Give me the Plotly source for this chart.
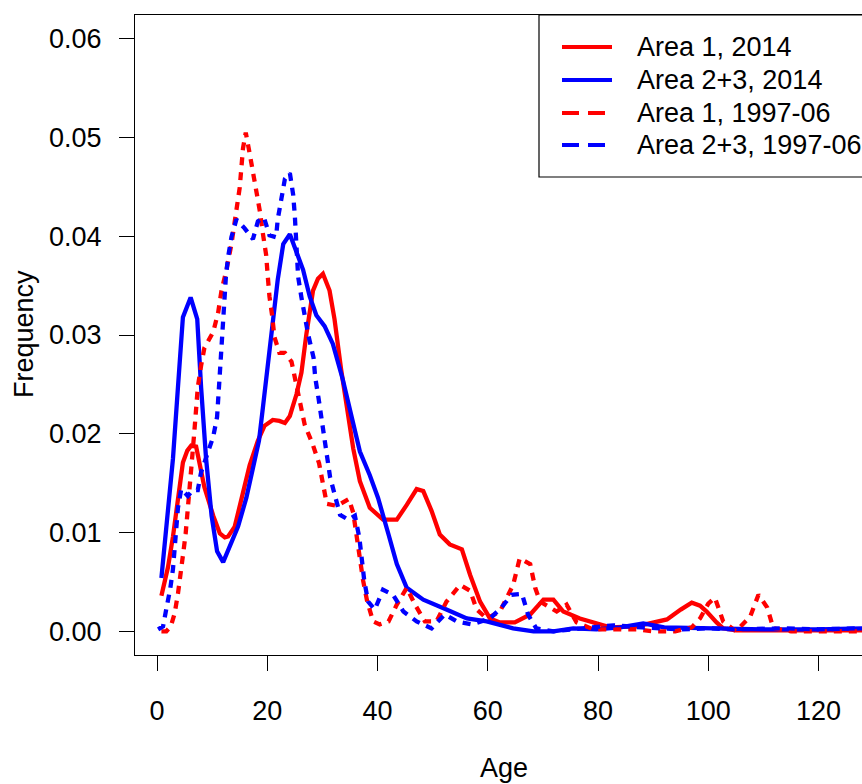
import plotly.graph_objects as go

# ---- data ----
age_a1_2014 = [0.8, 2.0, 2.9, 3.8, 4.7, 5.5, 6.2, 7.1, 7.8, 8.6, 10.2, 11.4, 12.3, 12.9, 14.1, 15.6, 16.8, 18.3, 19.5,
               21.0, 22.2, 23.2, 24.1, 25.3, 26.2, 27.1, 28.3, 29.2, 30.1, 31.3, 32.2, 33.4, 34.9, 35.6, 36.8, 38.6,
               41.0, 43.5, 45.3, 47.1, 48.3, 49.8, 51.3, 53.1, 55.3, 56.8, 58.6, 60.4, 62.2, 64.9, 67.7, 70.1, 71.9,
               73.7, 76.7, 79.8, 82.2, 87.0, 92.5, 95.0, 97.0, 98.5, 99.7, 101.5, 102.7, 105.0, 110.0, 115.0, 120.0, 128.0]
frq_a1_2014 = [0.0036, 0.0065, 0.0096, 0.0135, 0.0171, 0.0183, 0.0188, 0.0187, 0.0168, 0.0146, 0.0117, 0.0099, 0.0095,
               0.0096, 0.0106, 0.0139, 0.0168, 0.0193, 0.0208, 0.0214, 0.0213, 0.0211, 0.0218, 0.0240, 0.0262, 0.0301,
               0.0345, 0.0357, 0.0362, 0.0345, 0.0316, 0.0265, 0.0207, 0.0185, 0.0152, 0.0125, 0.0113, 0.0113, 0.0128,
               0.0144, 0.0142, 0.0122, 0.0098, 0.0088, 0.0083, 0.0057, 0.0030, 0.0013, 0.0009, 0.0009, 0.0017, 0.0032,
               0.0032, 0.0020, 0.0013, 0.0008, 0.0004, 0.0005, 0.0012, 0.0022, 0.0029, 0.0026, 0.0020, 0.0009, 0.0003,
               0.0001, 0.0001, 0.0001, 0.0001, 0.0001]

age_a23_2014 = [0.8, 1.7, 2.9, 3.8, 4.7, 6.1, 7.3, 8.0, 8.9, 9.9, 10.9, 12.0, 13.2, 14.7, 16.2, 17.4, 18.5, 19.2, 19.8,
                20.4, 21.0, 21.9, 22.9, 24.1, 25.3, 26.5, 27.7, 28.9, 30.4, 31.9, 33.7, 35.3, 36.8, 38.6, 40.1, 42.0,
                43.5, 45.3, 48.3, 52.5, 56.2, 59.8, 64.6, 68.3, 71.9, 75.5, 79.7, 84.0, 88.2, 92.0, 100.0, 110.0,
                120.0, 128.0]
frq_a23_2014 = [0.0054, 0.0103, 0.0175, 0.0247, 0.0318, 0.0338, 0.0316, 0.0247, 0.0175, 0.0117, 0.0081, 0.0070,
                0.0085, 0.0106, 0.0135, 0.0164, 0.0193, 0.0226, 0.0255, 0.0291, 0.0320, 0.0356, 0.0392, 0.0402,
                0.0384, 0.0366, 0.0339, 0.0320, 0.0309, 0.0291, 0.0255, 0.0218, 0.0182, 0.0158, 0.0135, 0.0098,
                0.0068, 0.0044, 0.0032, 0.0022, 0.0013, 0.0010, 0.0003, 0.0000, 0.0000, 0.0003, 0.0002, 0.0004,
                0.0008, 0.0004, 0.0003, 0.0002, 0.0002, 0.0003]

age_a1_hist = [0.8, 1.7, 2.5, 3.2, 3.8, 4.4, 4.8, 5.2, 5.6, 5.9, 6.2, 6.8, 7.4, 8.0, 8.6, 10.2, 11.1, 11.7, 12.6, 13.5,
               14.4, 15.0, 15.6, 16.1, 16.8, 17.5, 18.1, 18.7, 19.2, 19.8, 20.1, 20.4, 20.9, 21.3, 22.2, 23.2, 24.4,
               25.3, 25.9, 26.8, 28.2, 29.4, 30.1, 30.8, 32.6, 34.8, 35.6, 36.2, 36.8, 37.4, 38.1, 39.2, 40.4, 42.0,
               43.5, 45.3, 46.8, 48.6, 50.7, 52.5, 55.0, 56.8, 58.0, 59.8, 62.2, 64.6, 65.8, 67.7, 68.6, 69.5, 72.5,
               74.3, 76.1, 79.1, 82.0, 87.0, 90.0, 94.0, 97.0, 98.5, 100.0, 101.2, 102.7, 105.0, 107.6, 109.1, 110.7,
               111.8, 115.0, 120.0, 128.0]
frq_a1_hist = [0.0000, 0.0000, 0.0005, 0.0018, 0.0038, 0.0060, 0.0081, 0.0099, 0.0121, 0.0143, 0.0164, 0.0204,
               0.0247, 0.0269, 0.0287, 0.0303, 0.0323, 0.0345, 0.0366, 0.0392, 0.0428, 0.0449, 0.0489, 0.0505,
               0.0484, 0.0464, 0.0442, 0.0424, 0.0403, 0.0381, 0.0359, 0.0339, 0.0319, 0.0298, 0.0282, 0.0282,
               0.0273, 0.0251, 0.0233, 0.0209, 0.0190, 0.0170, 0.0150, 0.0129, 0.0127, 0.0134, 0.0120, 0.0095,
               0.0072, 0.0051, 0.0031, 0.0010, 0.0007, 0.0010, 0.0027, 0.0044, 0.0027, 0.0010, 0.0010, 0.0030,
               0.0047, 0.0041, 0.0022, 0.0013, 0.0020, 0.0047, 0.0074, 0.0068, 0.0044, 0.0030, 0.0020, 0.0027,
               0.0009, 0.0002, 0.0002, 0.0002, 0.0000, 0.0000, 0.0004, 0.0013, 0.0028, 0.0034, 0.0010, 0.0000,
               0.0015, 0.0037, 0.0024, 0.0003, 0.0000, 0.0000, 0.0000]

age_a23_hist = [0.2, 1.1, 1.7, 2.4, 2.9, 3.2, 3.5, 3.8, 4.4, 5.6, 6.5, 7.4, 8.0, 8.9, 10.2, 10.9, 11.1, 11.4, 11.7,
                11.9, 12.0, 12.3, 12.5, 12.9, 13.5, 14.4, 15.9, 17.4, 18.3, 19.4, 20.4, 21.6, 21.9, 22.6, 23.2, 24.1,
                24.7, 25.0, 25.2, 25.6, 26.2, 26.8, 27.4, 28.4, 28.7, 29.3, 30.2, 30.8, 31.4, 32.3, 33.2, 34.7, 35.9,
                36.7, 37.1, 37.6, 38.3, 39.5, 41.0, 42.8, 44.7, 47.1, 49.8, 52.2, 54.4, 57.1, 60.4, 62.5, 64.3, 66.2,
                67.3, 68.8, 71.9, 75.5, 79.1, 82.8, 88.0, 95.0, 100.0, 105.0, 114.0, 120.0, 127.6]
frq_a23_hist = [0.0002, 0.0005, 0.0023, 0.0043, 0.0063, 0.0085, 0.0106, 0.0125, 0.0144, 0.0137, 0.0143, 0.0143,
                0.0161, 0.0175, 0.0197, 0.0217, 0.0236, 0.0256, 0.0276, 0.0298, 0.0318, 0.0339, 0.0359, 0.0379,
                0.0399, 0.0417, 0.0408, 0.0397, 0.0415, 0.0419, 0.0401, 0.0399, 0.0417, 0.0439, 0.0458, 0.0464,
                0.0442, 0.0421, 0.0399, 0.0359, 0.0338, 0.0317, 0.0301, 0.0277, 0.0257, 0.0236, 0.0199, 0.0176,
                0.0156, 0.0137, 0.0118, 0.0113, 0.0117, 0.0095, 0.0074, 0.0051, 0.0030, 0.0022, 0.0042, 0.0037,
                0.0020, 0.0010, 0.0003, 0.0017, 0.0010, 0.0007, 0.0013, 0.0024, 0.0037, 0.0038, 0.0017, 0.0003,
                0.0000, 0.0002, 0.0003, 0.0006, 0.0004, 0.0002, 0.0003, 0.0002, 0.0003, 0.0002, 0.0003]

series_names = ["Area 1, 2014", "Area 2+3, 2014", "Area 1, 1997-06", "Area 2+3, 1997-06"]
series_x = [age_a1_2014, age_a23_2014, age_a1_hist, age_a23_hist]
series_y = [frq_a1_2014, frq_a23_2014, frq_a1_hist, frq_a23_hist]

x_ticks = [0, 20, 40, 60, 80, 100, 120]
y_ticks = [0.00, 0.01, 0.02, 0.03, 0.04, 0.05, 0.06]

# ---- styles ----
colors = ["#FF0000", "#0000FF", "#FF0000", "#0000FF"]
plot_dash = ["solid", "solid", "8px,7px", "8px,7px"]
legend_dash = ["solid", "solid", "17px,9px", "17px,9px"]
FONT = "Liberation Sans, Arial, sans-serif"
FS = 27

fig = go.Figure()
for name, xs, ys, c, d in zip(series_names, series_x, series_y, colors, plot_dash):
    fig.add_trace(go.Scatter(x=xs, y=ys, mode="lines", name=name,
                             line=dict(color=c, width=4.3, dash=d), showlegend=False))

W, H = 862, 784
ml, mr, mt, mb = 135, 0, 15, 129
pw, ph = W - ml - mr, H - mt - mb

def px_x(p):
    return (p - ml) / pw

def px_y(p):
    return (H - mb - p) / ph

shapes = []
annotations = []
# legend box
shapes.append(dict(type="rect", xref="paper", yref="paper",
                   x0=px_x(539), x1=px_x(900), y0=px_y(177), y1=px_y(15),
                   line=dict(color="black", width=1.2), fillcolor="white", layer="above"))
entry_y = [47, 80, 113, 145]
for name, c, d, ey in zip(series_names, colors, legend_dash, entry_y):
    shapes.append(dict(type="line", xref="paper", yref="paper",
                       x0=px_x(562), x1=px_x(612), y0=px_y(ey), y1=px_y(ey),
                       line=dict(color=c, width=4, dash=d), layer="above"))
    annotations.append(dict(text=name, xref="paper", yref="paper", x=px_x(635), y=px_y(ey),
                            xanchor="left", yanchor="middle", showarrow=False,
                            font=dict(family=FONT, size=FS, color="black")))

annotations.append(dict(text="Age", xref="paper", yref="paper", x=px_x(504), y=px_y(768),
                        xanchor="center", yanchor="middle", showarrow=False,
                        font=dict(family=FONT, size=FS, color="black")))
annotations.append(dict(text="Frequency", xref="paper", yref="paper", x=px_x(24), y=px_y(334),
                        xanchor="center", yanchor="middle", showarrow=False, textangle=-90,
                        font=dict(family=FONT, size=FS, color="black")))

fig.update_layout(
    width=W, height=H,
    margin=dict(l=ml, r=mr, t=mt, b=mb, pad=0),
    paper_bgcolor="white", plot_bgcolor="white",
    font=dict(family=FONT, size=FS, color="black"),
    shapes=shapes, annotations=annotations,
    showlegend=False,
)
fig.update_xaxes(range=[-3.99, 127.88], tickvals=x_ticks, ticktext=[str(v) for v in x_ticks],
                 ticks="outside", ticklen=15, tickwidth=1.2, tickcolor="black",
                 showline=True, linecolor="black", linewidth=1.2, mirror=True,
                 showgrid=False, zeroline=False, ticklabelstandoff=16)
fig.update_yaxes(range=[-0.0024, 0.0624], tickvals=y_ticks, ticktext=["%.2f" % v for v in y_ticks],
                 ticks="outside", ticklen=15, tickwidth=1.2, tickcolor="black",
                 showline=True, linecolor="black", linewidth=1.2, mirror=False,
                 showgrid=False, zeroline=False, ticklabelstandoff=12)

fig.write_html("out.html", config={"displayModeBar": False},
               post_script="document.body.style.margin='0';document.body.style.overflow='hidden';")
